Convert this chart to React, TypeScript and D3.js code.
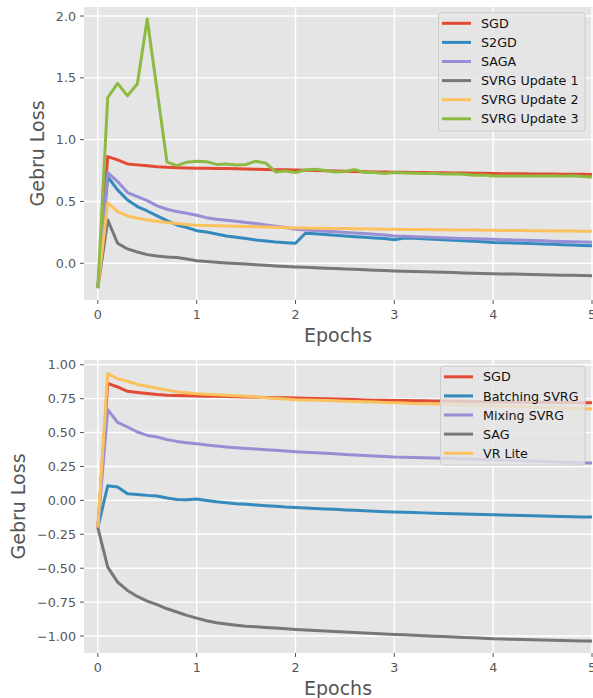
import React from "react";
import * as d3 from "d3";

// ---------- data ----------
const epochs = d3.range(51).map((i) => i / 10);

const topNames = ["SGD", "S2GD", "SAGA", "SVRG Update 1", "SVRG Update 2", "SVRG Update 3"];
const bottomNames = ["SGD", "Batching SVRG", "Mixing SVRG", "SAG", "VR Lite"];

const sgd = [-0.2, 0.863, 0.836, 0.804, 0.796, 0.788, 0.781, 0.776, 0.773, 0.771, 0.769, 0.768, 0.767, 0.766, 0.764, 0.763, 0.761, 0.759, 0.757, 0.756, 0.755, 0.753, 0.751, 0.749, 0.747, 0.745, 0.743, 0.741, 0.739, 0.738, 0.737, 0.736, 0.735, 0.734, 0.733, 0.732, 0.731, 0.73, 0.729, 0.728, 0.727, 0.725, 0.725, 0.724, 0.723, 0.723, 0.722, 0.721, 0.721, 0.72, 0.719];
const s2gd = [-0.2, 0.7, 0.594, 0.512, 0.459, 0.423, 0.383, 0.345, 0.31, 0.289, 0.264, 0.253, 0.237, 0.221, 0.21, 0.2, 0.189, 0.18, 0.172, 0.167, 0.162, 0.243, 0.238, 0.232, 0.226, 0.221, 0.215, 0.21, 0.205, 0.2, 0.19, 0.205, 0.202, 0.198, 0.194, 0.19, 0.186, 0.182, 0.178, 0.174, 0.168, 0.167, 0.165, 0.162, 0.159, 0.156, 0.153, 0.15, 0.147, 0.144, 0.141];
const saga = [-0.2, 0.734, 0.661, 0.572, 0.539, 0.507, 0.464, 0.437, 0.418, 0.405, 0.389, 0.369, 0.356, 0.348, 0.34, 0.329, 0.321, 0.31, 0.3, 0.289, 0.275, 0.27, 0.265, 0.26, 0.255, 0.25, 0.245, 0.24, 0.235, 0.228, 0.221, 0.218, 0.215, 0.212, 0.209, 0.206, 0.203, 0.2, 0.198, 0.196, 0.194, 0.191, 0.189, 0.186, 0.184, 0.182, 0.179, 0.177, 0.175, 0.172, 0.17];
const svrg1 = [-0.2, 0.35, 0.162, 0.116, 0.091, 0.07, 0.059, 0.051, 0.046, 0.035, 0.021, 0.014, 0.008, 0.003, -0.002, -0.006, -0.011, -0.016, -0.021, -0.026, -0.03, -0.033, -0.036, -0.04, -0.043, -0.046, -0.049, -0.053, -0.056, -0.059, -0.062, -0.064, -0.066, -0.069, -0.071, -0.073, -0.075, -0.078, -0.08, -0.082, -0.084, -0.086, -0.087, -0.089, -0.091, -0.092, -0.094, -0.096, -0.097, -0.099, -0.1];
const svrg2 = [-0.2, 0.491, 0.418, 0.383, 0.364, 0.35, 0.34, 0.329, 0.321, 0.314, 0.307, 0.305, 0.303, 0.301, 0.299, 0.297, 0.295, 0.293, 0.291, 0.288, 0.286, 0.285, 0.284, 0.283, 0.282, 0.281, 0.28, 0.279, 0.278, 0.276, 0.275, 0.274, 0.273, 0.273, 0.272, 0.271, 0.27, 0.27, 0.269, 0.268, 0.267, 0.266, 0.265, 0.265, 0.264, 0.263, 0.262, 0.262, 0.261, 0.26, 0.259];
const svrg3 = [-0.2, 1.34, 1.455, 1.355, 1.452, 1.976, 1.395, 0.818, 0.79, 0.818, 0.826, 0.822, 0.8, 0.803, 0.795, 0.8, 0.826, 0.81, 0.739, 0.747, 0.734, 0.755, 0.76, 0.75, 0.739, 0.742, 0.758, 0.734, 0.734, 0.726, 0.734, 0.731, 0.729, 0.727, 0.727, 0.723, 0.725, 0.72, 0.712, 0.715, 0.706, 0.706, 0.706, 0.705, 0.706, 0.705, 0.708, 0.705, 0.708, 0.701, 0.697];

const batching = [-0.2, 0.108, 0.098, 0.049, 0.044, 0.037, 0.032, 0.017, 0.007, 0.005, 0.01, 0.0, -0.01, -0.017, -0.025, -0.029, -0.034, -0.039, -0.044, -0.049, -0.052, -0.056, -0.059, -0.063, -0.066, -0.07, -0.073, -0.076, -0.08, -0.083, -0.086, -0.088, -0.09, -0.092, -0.094, -0.096, -0.098, -0.1, -0.102, -0.104, -0.106, -0.108, -0.11, -0.111, -0.113, -0.115, -0.117, -0.119, -0.12, -0.122, -0.123];
const mixing = [-0.2, 0.669, 0.575, 0.541, 0.504, 0.479, 0.467, 0.448, 0.435, 0.425, 0.418, 0.408, 0.401, 0.393, 0.388, 0.383, 0.378, 0.373, 0.369, 0.364, 0.359, 0.355, 0.351, 0.347, 0.343, 0.339, 0.335, 0.331, 0.327, 0.324, 0.32, 0.318, 0.316, 0.314, 0.312, 0.31, 0.308, 0.306, 0.304, 0.302, 0.3, 0.297, 0.295, 0.292, 0.29, 0.287, 0.285, 0.282, 0.28, 0.277, 0.275];
const sag = [-0.2, -0.492, -0.602, -0.664, -0.708, -0.742, -0.769, -0.799, -0.823, -0.848, -0.868, -0.887, -0.902, -0.912, -0.92, -0.927, -0.932, -0.937, -0.941, -0.946, -0.951, -0.955, -0.959, -0.963, -0.967, -0.97, -0.974, -0.978, -0.981, -0.985, -0.988, -0.991, -0.994, -0.998, -1.001, -1.004, -1.007, -1.01, -1.013, -1.016, -1.02, -1.022, -1.024, -1.025, -1.027, -1.029, -1.031, -1.033, -1.034, -1.036, -1.037];
const vrLite = [-0.2, 0.934, 0.897, 0.878, 0.855, 0.841, 0.826, 0.813, 0.801, 0.794, 0.787, 0.783, 0.779, 0.775, 0.771, 0.767, 0.762, 0.757, 0.752, 0.747, 0.742, 0.74, 0.738, 0.736, 0.734, 0.731, 0.729, 0.727, 0.725, 0.722, 0.72, 0.718, 0.715, 0.713, 0.71, 0.708, 0.706, 0.703, 0.701, 0.698, 0.696, 0.694, 0.692, 0.69, 0.687, 0.685, 0.683, 0.681, 0.678, 0.676, 0.674];

const xTicks = [0, 1, 2, 3, 4, 5];
const topYTicks = [0, 0.5, 1, 1.5, 2];
const bottomYTicks = [-1, -0.75, -0.5, -0.25, 0, 0.25, 0.5, 0.75, 1];

const palette = ["#E24A33", "#348ABD", "#988ED5", "#777777", "#FBC15E", "#8EBA42"];

const FONT = "'DejaVu Sans', sans-serif";

type PanelProps = {
  top: number;
  bottom: number;
  yDomain: [number, number];
  yTicks: number[];
  fmt: (v: number) => string;
  names: string[];
  series: number[][];
  colors: string[];
  ylabelX: number;
  xlabelY: number;
  legend: { x: number; y: number; w: number; h: number; lineX: number; row0: number; step: number };
  id: string;
};

const LEFT = 84;
const RIGHT = 592;

function Panel(p: PanelProps) {
  const x = d3.scaleLinear().domain([-0.14, 5]).range([LEFT, RIGHT]);
  const y = d3.scaleLinear().domain(p.yDomain).range([p.bottom, p.top]);
  const line = d3
    .line<number>()
    .x((_, i) => x(epochs[i]))
    .y((d) => y(d));
  const cx = (LEFT + RIGHT) / 2;
  const cy = (p.top + p.bottom) / 2;
  const L = p.legend;
  return (
    <g>
      <defs>
        <clipPath id={p.id}>
          <rect x={LEFT} y={p.top} width={RIGHT - LEFT} height={p.bottom - p.top} />
        </clipPath>
      </defs>
      <rect x={LEFT} y={p.top} width={RIGHT - LEFT + 2} height={p.bottom - p.top} fill="#E5E5E5" />
      {xTicks.map((t) => (
        <line key={"gx" + t} x1={x(t)} x2={x(t)} y1={p.top} y2={p.bottom} stroke="#fff" strokeWidth={1.4} />
      ))}
      {p.yTicks.map((t) => (
        <line key={"gy" + t} x1={LEFT} x2={RIGHT + 2} y1={y(t)} y2={y(t)} stroke="#fff" strokeWidth={1.4} />
      ))}
      {xTicks.map((t) => (
        <g key={"tx" + t}>
          <line x1={x(t)} x2={x(t)} y1={p.bottom} y2={p.bottom + 4} stroke="#555" strokeWidth={1} />
          <text x={x(t)} y={p.bottom + 19} textAnchor="middle" fontSize={12.7} fill="#555" fontFamily={FONT}>
            {t}
          </text>
        </g>
      ))}
      {p.yTicks.map((t) => (
        <g key={"ty" + t}>
          <line x1={LEFT - 4} x2={LEFT} y1={y(t)} y2={y(t)} stroke="#555" strokeWidth={1} />
          <text x={LEFT - 8} y={y(t) + 4.5} textAnchor="end" fontSize={12.7} fill="#555" fontFamily={FONT}>
            {p.fmt(t)}
          </text>
        </g>
      ))}
      <g clipPath={`url(#${p.id})`}>
        {p.series.map((s, i) => (
          <path key={"s" + i} d={line(s) || ""} fill="none" stroke={p.colors[i]} strokeWidth={3} strokeLinejoin="round" />
        ))}
      </g>
      <text x={cx} y={p.xlabelY} textAnchor="middle" fontSize={19} fill="#555" fontFamily={FONT}>
        Epochs
      </text>
      <text
        transform={`translate(${p.ylabelX},${cy}) rotate(-90)`}
        textAnchor="middle"
        fontSize={19}
        fill="#555"
        fontFamily={FONT}
      >
        Gebru Loss
      </text>
      <rect x={L.x} y={L.y} width={L.w} height={L.h} rx={3} fill="#E5E5E5" fillOpacity={0.8} stroke="#cccccc" strokeWidth={1} />
      {p.names.map((n, i) => {
        const ry = L.row0 + i * L.step;
        return (
          <g key={"l" + i}>
            <line x1={L.lineX} x2={L.lineX + 29} y1={ry} y2={ry} stroke={p.colors[i]} strokeWidth={3} />
            <text x={L.lineX + 39} y={ry + 4.6} fontSize={12.7} fill="#111" fontFamily={FONT}>
              {n}
            </text>
          </g>
        );
      })}
    </g>
  );
}

export default function App() {
  const fmt1 = d3.format(".1f");
  const fmt2 = d3.format(".2f");
  return (
    <svg
      width={593}
      height={698}
      style={{ position: "absolute", left: 0, top: 0, background: "#fff" }}
    >
      <rect width={593} height={698} fill="#fff" />
      <Panel
        id="clipTop"
        top={7}
        bottom={300}
        yDomain={[-0.297, 2.073]}
        yTicks={topYTicks}
        fmt={fmt1}
        names={topNames}
        series={[sgd, s2gd, saga, svrg1, svrg2, svrg3]}
        colors={palette}
        ylabelX={44}
        xlabelY={342}
        legend={{ x: 438.5, y: 12.5, w: 146.5, h: 118.5, lineX: 442, row0: 23.3, step: 19.1 }}
      />
      <Panel
        id="clipBottom"
        top={360}
        bottom={653}
        yDomain={[-1.125, 1.035]}
        yTicks={bottomYTicks}
        fmt={fmt2}
        names={bottomNames}
        series={[sgd, batching, mixing, sag, vrLite]}
        colors={[palette[0], palette[1], palette[2], palette[3], palette[4]]}
        ylabelX={25}
        xlabelY={695}
        legend={{ x: 440.5, y: 366, w: 144.5, h: 99, lineX: 444, row0: 376.8, step: 19.1 }}
      />
    </svg>
  );
}
